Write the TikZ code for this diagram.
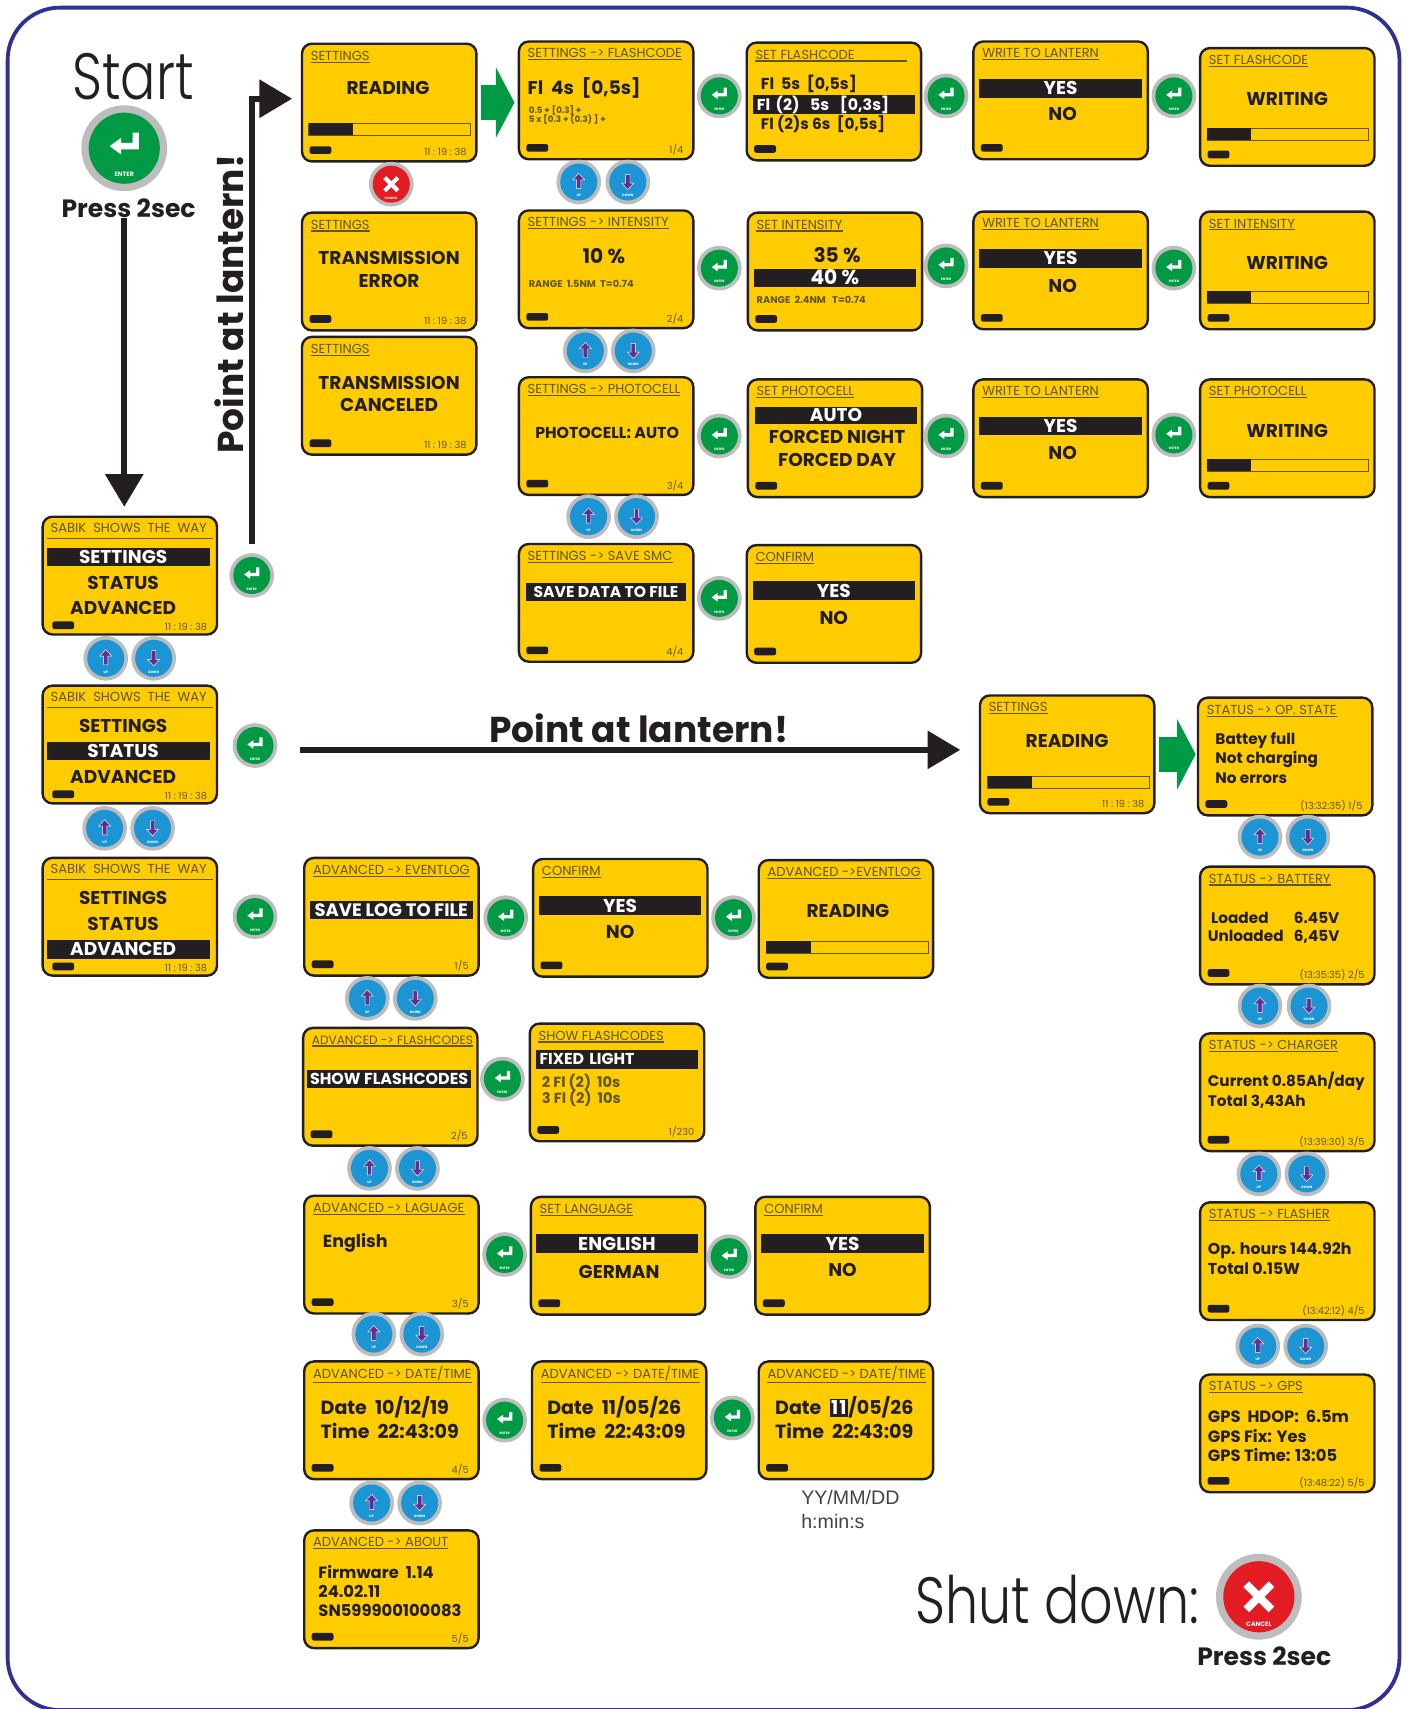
\documentclass[tikz,border=0pt]{standalone}
\usepackage{fontspec}
\setmainfont{Poppins}
\newfontfamily\thinfont[FakeStretch=.8]{Poppins Light}
\newfontfamily\arialfont{Liberation Sans}
\usetikzlibrary{arrows.meta}

\definecolor{scryellow}{HTML}{FFCC00}
\definecolor{scrdark}{HTML}{231F20}
\definecolor{scrdim}{HTML}{5F5620}
\definecolor{keygreen}{HTML}{009A44}
\definecolor{keyblue}{HTML}{1C95D4}
\definecolor{keyred}{HTML}{E31B23}
\definecolor{keyring}{HTML}{BDBDBD}
\definecolor{keypurple}{HTML}{662D91}
\definecolor{framenavy}{HTML}{2E3192}

\tikzset{
    screenbox/.style={draw=scrdark,fill=scryellow,line width=2.2pt,rounded corners=9pt,minimum width=160pt,minimum height=108pt,inner sep=0pt,anchor=north west},
    screentitle/.style={text=scrdim,font=\fontsize{12}{12}\selectfont,inner sep=0pt,inner ysep=1.5pt,anchor=west},
    titlerule/.style={draw=scrdim,line width=1pt},
    battery/.style={fill=scrdark,rounded corners=2pt,minimum width=20pt,minimum height=7pt,inner sep=0pt},
    screenfoot/.style={text=scrdim,font=\fontsize{9}{9}\selectfont,inner sep=0pt,anchor=east},
    scrfs/.style={font=\fontsize{#1}{#1}\selectfont\bfseries,text height=#1*.7pt,text depth=0pt},
    scrleft/.style={anchor=west,scrfs=#1},
    scrtext/.style={text=scrdark,scrfs=17,inner sep=0pt},
    scrsmall/.style={text=scrdim,anchor=west,scrfs=#1},
    scrbar/.style={fill=scrdark,text=white,scrfs=17,inner sep=0pt,minimum width=149pt,minimum height=17pt},
    progressbox/.style={draw=scrdim,line width=1pt,anchor=north west,minimum width=148pt,minimum height=11pt,inner sep=0pt},
    progressdone/.style={fill=scrdark,anchor=north west,minimum width=41pt,minimum height=11pt,inner sep=0pt},
    keyout/.style={circle,fill=keyring,minimum size=41pt,inner sep=0pt,transform shape},
    keyface/.style={circle,minimum size=34pt,inner sep=0pt,transform shape},
    keylabel/.style={text=white,font=\fontsize{3}{3}\selectfont\bfseries,inner sep=0pt,transform shape},
    bigarrow/.style={draw=scrdark,line width=5.5pt,-{Triangle[length=30pt,width=34pt]}},
    greenarrow/.style={draw=keygreen,line width=32pt,-{Triangle[length=17pt,width=64pt]}},
    bigbold/.style={text=scrdark,font=\fontsize{33}{33}\selectfont\bfseries,inner sep=0pt},
    thintext/.style={text=scrdark,inner sep=0pt},
    pressnote/.style={text=scrdark,font=\fontsize{23}{23}\selectfont\bfseries,inner sep=0pt},
    arialnote/.style={text=scrdark!85,font=\fontsize{18}{18}\selectfont\arialfont,inner sep=0pt,anchor=west},
}

% name, x, y, title, footer
\newcommand{\screen}[5]{
    \node[screenbox] (#1) at (#2,#3) {};
    \node[screentitle] (#1-title) at ([shift={(9,12)}]#1.north west) {#4};
    \draw[titlerule] (#1-title.south west) -- (#1-title.south east);
    \node[battery] (#1-batt) at ([shift={(18,-11.5)}]#1.south west) {};
    \node[screenfoot] (#1-foot) at ([shift={(-10,-10)}]#1.south east) {#5};
}
% name, x, y
\newcommand{\menuscreen}[3]{
    \node[screenbox] (#1) at (#2,#3) {};
    \node[screentitle,anchor=center] (#1-title) at ([shift={(-1,11)}]#1.north) {SABIK\ \ SHOWS\ \ THE\ \ WAY};
    \draw[titlerule] ([shift={(5,21)}]#1.north west) -- ([shift={(-5,21)}]#1.north east);
    \node[battery] (#1-batt) at ([shift={(20,-9.5)}]#1.south west) {};
    \node[screenfoot] (#1-foot) at ([shift={(-10,-8)}]#1.south east) {\clocktext};
}
\newcommand{\clocktext}{11\ :\ 19\ :\ 38}
\newcommand{\scrline}[5][]{\node[scrtext,#1] (#2) at (#3,#4) {#5};}
\newcommand{\scrsel}[5][]{\node[scrbar,#1] (#2) at (#3,#4) {#5};}
% name, x, y: box with its filled part
\newcommand{\progress}[3]{
    \node[progressbox] (#1) at (#2,#3) {};
    \node[progressdone] (#1-done) at (#2,#3) {};
}
\newcommand{\enterkey}[4]{
    \begin{scope}[shift={(#2,#3)},scale=#4]
        \node[keyout] (#1) at (0,0) {};
        \node[keyface,fill=keygreen] (#1-face) at (0,0) {};
        \fill[white] (-7,-1) -- (-1.5,-5) -- (-1.5,-2.5) -- (4,-2.5) -- (4,-7.5) -- (7,-7.5) -- (7,.5) -- (-1.5,.5) -- (-1.5,3) -- cycle;
        \node[keylabel] (#1-text) at (0,12.5) {ENTER};
    \end{scope}
}
\newcommand{\cancelkey}[4]{
    \begin{scope}[shift={(#2,#3)},scale=#4]
        \node[keyout] (#1) at (0,0) {};
        \node[keyface,fill=keyred] (#1-face) at (0,0) {};
        \fill[white,rotate=45] (-8.5,-1.9) rectangle (8.5,1.9);
        \fill[white,rotate=-45] (-8.5,-1.9) rectangle (8.5,1.9);
        \node[keylabel] (#1-text) at (0,13) {CANCEL};
    \end{scope}
}
% name, x of the up key, x of the down key, y
\newcommand{\updown}[4]{
    \begin{scope}[shift={(#2,#4)}]
        \node[keyout] (#1-up) at (0,0) {};
        \node[keyface,fill=keyblue] (#1-upface) at (0,0) {};
        \filldraw[fill=keypurple,draw=white,line width=.4pt] (0,-8) -- (5.5,-2) -- (2,-2) -- (2,6) -- (-2,6) -- (-2,-2) -- (-5.5,-2) -- cycle;
        \node[keylabel] (#1-uptext) at (0,12.5) {UP};
    \end{scope}
    \begin{scope}[shift={(#3,#4)}]
        \node[keyout] (#1-down) at (0,0) {};
        \node[keyface,fill=keyblue] (#1-downface) at (0,0) {};
        \filldraw[fill=keypurple,draw=white,line width=.4pt] (0,7) -- (5.5,1) -- (2,1) -- (2,-7) -- (-2,-7) -- (-2,1) -- (-5.5,1) -- cycle;
        \node[keylabel] (#1-downtext) at (0,12.5) {DOWN};
    \end{scope}
}

\begin{document}
\begin{tikzpicture}[x=1pt,y=-1pt]
    \useasboundingbox (0,0) rectangle (1291,1568);
    \draw[framenavy,line width=3.5pt,rounded corners=48pt] (7,7) rectangle (1284,1569);

    %Start and shut down
    \node[thintext,font=\fontsize{60}{60}\selectfont\thinfont] (start) at (122,70) {Start};
    \enterkey{startkey}{114}{136}{1.92}
    \node[pressnote] (press) at (118,191) {Press 2sec};
    \node[thintext,font=\fontsize{60}{60}\selectfont\thinfont] (shut) at (970,1468) {Shut down:};
    \cancelkey{stopkey}{1155}{1465}{1.92}
    \node[pressnote] (pressstop) at (1160,1520) {Press 2sec};

    %Main menu
    \menuscreen{menuset}{38}{473}
    \scrsel{menuset-a}{118}{511}{SETTINGS\kern10pt}
    \scrline{menuset-b}{113}{535}{STATUS}
    \scrline{menuset-c}{113}{558}{ADVANCED}
    \menuscreen{menustat}{38}{628}
    \scrline{menustat-a}{113}{666}{SETTINGS}
    \scrsel{menustat-b}{118}{689}{STATUS\kern10pt}
    \scrline{menustat-c}{113}{713}{ADVANCED}
    \menuscreen{menuadv}{38}{786}
    \scrline{menuadv-a}{113}{824}{SETTINGS}
    \scrline{menuadv-b}{113}{848}{STATUS}
    \scrsel{menuadv-c}{118}{871}{ADVANCED\kern10pt}
    \updown{menukeya}{97}{141}{604}
    \updown{menukeyb}{96}{140}{760}
    \enterkey{menuenta}{231}{528}{1}
    \enterkey{menuentb}{234}{684}{1}
    \enterkey{menuentc}{234}{841}{1}

    %Settings, first column
    \screen{rd}{276}{39}{SETTINGS}{\clocktext}
    \scrline{rd-a}{356}{81}{READING}
    \progress{rd-bar}{283}{113}
    \cancelkey{rdcancel}{359}{169}{1}
    \screen{err}{276}{194}{SETTINGS}{\clocktext}
    \scrline{err-a}{357}{237}{TRANSMISSION}
    \scrline{err-b}{357}{258}{ERROR}
    \screen{can}{276}{308}{SETTINGS}{\clocktext}
    \scrline{can-a}{357}{351}{TRANSMISSION}
    \scrline{can-b}{357}{372}{CANCELED}

    %Settings, flashcode row
    \screen{fc}{475}{37}{SETTINGS -> FLASHCODE}{1/4}
    \scrline[anchor=west]{fc-a}{484}{81}{Fl\ \ 4s\ \ [0,5s]}
    \scrline[scrsmall=8]{fc-b}{485}{101}{0.5 + [0.3] +}
    \scrline[scrsmall=8]{fc-c}{485}{110}{5 x [0.3 + (0.3) ] +}
    \enterkey{fcent}{660}{88}{1}
    \screen{sf}{684}{38}{SET FLASHCODE}{}
    \draw[titlerule] (sf-title.south east) -- +(48,0);
    \scrline[scrleft=14.5]{sf-a}{698}{77}{Fl\ \ 5s\ \ [0,5s]}
    \scrsel[scrfs=14.5,text width=141pt,align=left]{sf-b}{765}{96}{Fl (2)\ \ 5s\ \ [0,3s]}
    \scrline[scrleft=14]{sf-c}{698}{114}{Fl (2)s 6s\ \ [0,5s]}
    \enterkey{sfent}{868}{88}{1}
    \screen{wa}{892}{37}{WRITE TO LANTERN}{}
    \scrsel{wa-a}{973}{81}{YES}
    \scrline{wa-b}{975}{105}{NO}
    \enterkey{waent}{1077}{88}{1}
    \screen{wra}{1100}{43}{SET FLASHCODE}{}
    \scrline{wra-a}{1181}{91}{WRITING}
    \progress{wra-bar}{1107}{117}

    %Settings, intensity row
    \updown{fckey}{531}{576}{167}
    \screen{in}{475}{192}{SETTINGS -> INTENSITY}{2/4}
    \scrline[scrfs=18.5]{in-a}{554}{235}{10 \%}
    \scrline[scrsmall=9]{in-b}{485}{261}{RANGE\ \ 1.5NM\ \ T=0.74}
    \enterkey{inent}{660}{246}{1}
    \screen{si}{685}{194}{SET INTENSITY}{}
    \scrline[scrfs=18.5]{si-a}{768}{234}{35 \%}
    \scrsel[scrfs=18.5]{si-b}{766}{255}{40 \%}
    \scrline[scrsmall=9]{si-c}{694}{275}{RANGE\ \ 2.4NM\ \ \ T=0.74}
    \enterkey{sient}{868}{244}{1}
    \screen{wb}{892}{193}{WRITE TO LANTERN}{}
    \scrsel{wb-a}{973}{237}{YES}
    \scrline{wb-b}{975}{262}{NO}
    \enterkey{wbent}{1077}{246}{1}
    \screen{wrb}{1100}{193}{SET INTENSITY}{}
    \scrline{wrb-a}{1181}{241}{WRITING}
    \progress{wrb-bar}{1107}{267}

    %Settings, photocell row
    \updown{inkey}{537}{581}{322}
    \screen{ph}{475}{345}{SETTINGS -> PHOTOCELL}{3/4}
    \scrline[scrfs=14.5]{ph-a}{557}{397}{PHOTOCELL: AUTO}
    \enterkey{phent}{660}{400}{1}
    \screen{sp}{685}{347}{SET PHOTOCELL}{}
    \scrsel[minimum height=16pt]{sp-a}{767}{381}{AUTO}
    \scrline{sp-b}{768}{401}{FORCED NIGHT}
    \scrline{sp-c}{768}{422}{FORCED DAY}
    \enterkey{spent}{868}{400}{1}
    \screen{wc}{892}{347}{WRITE TO LANTERN}{}
    \scrsel{wc-a}{973}{391}{YES}
    \scrline{wc-b}{975}{416}{NO}
    \enterkey{wcent}{1077}{399}{1}
    \screen{wrc}{1100}{347}{SET PHOTOCELL}{}
    \scrline{wrc-a}{1181}{395}{WRITING}
    \progress{wrc-bar}{1107}{421}

    %Settings, save row
    \updown{phkey}{540}{584}{474}
    \screen{smc}{475}{498}{SETTINGS -> SAVE SMC}{4/4}
    \scrsel[minimum width=146pt,scrfs=14.3]{smc-a}{556}{543}{SAVE DATA TO FILE}
    \enterkey{smcent}{660}{549}{1}
    \screen{cfa}{684}{499}{CONFIRM}{}
    \scrsel{cfa-a}{765}{542}{YES}
    \scrline{cfa-b}{765}{567}{NO}

    %Status column
    \screen{rds}{898}{637}{SETTINGS}{\clocktext}
    \scrline{rds-a}{979}{680}{READING}
    \progress{rds-bar}{906}{712}
    \screen{sta}{1098}{639}{STATUS -> OP. STATE}{(13:32:35) 1/5}
    \scrline[scrleft=14]{sta-a}{1115}{678}{Battey full}
    \scrline[scrleft=14]{sta-b}{1115}{696}{Not charging}
    \scrline[scrleft=14]{sta-c}{1115}{714}{No errors}
    \updown{stakey}{1156}{1200}{768}
    \screen{stb}{1100}{794}{STATUS -> BATTERY}{(13:35:35) 2/5}
    \scrline[scrleft=14]{stb-a}{1111}{842}{Loaded}
    \scrline[scrleft=14]{stb-b}{1187}{842}{6.45V}
    \scrline[scrleft=14]{stb-c}{1108}{859}{Unloaded}
    \scrline[scrleft=14]{stb-d}{1187}{859}{6,45V}
    \updown{stbkey}{1156}{1201}{923}
    \screen{stc}{1100}{947}{STATUS -> CHARGER}{(13:39:30) 3/5}
    \scrline[scrleft=14]{stc-a}{1108}{992}{Current 0.85Ah/day}
    \scrline[scrleft=14]{stc-b}{1108}{1010}{Total 3,43Ah}
    \updown{stckey}{1155}{1199}{1077}
    \screen{std}{1100}{1102}{STATUS -> FLASHER}{(13:42:12) 4/5}
    \scrline[scrleft=14.5]{std-a}{1108}{1146}{Op. hours 144.92h}
    \scrline[scrleft=14.5]{std-b}{1108}{1164}{Total 0.15W}
    \updown{stdkey}{1154}{1198}{1235}
    \screen{ste}{1100}{1260}{STATUS -> GPS}{(13:48:22) 5/5}
    \scrline[scrleft=15]{ste-a}{1108}{1300}{GPS\ \ HDOP:\ \ 6.5m}
    \scrline[scrleft=15]{ste-b}{1108}{1318}{GPS Fix: Yes}
    \scrline[scrleft=15]{ste-c}{1108}{1336}{GPS Time: 13:05}

    %Advanced, first row
    \screen{ada}{278}{786}{ADVANCED -> EVENTLOG}{1/5}
    \scrsel[scrfs=16.5,minimum width=150pt]{ada-a}{359}{835}{SAVE LOG TO FILE}
    \enterkey{adaent}{464}{842}{1}
    \screen{cfb}{488}{787}{CONFIRM}{}
    \scrsel{cfb-a}{569}{831}{YES}
    \scrline{cfb-b}{569}{855}{NO}
    \enterkey{cfbent}{673}{842}{1}
    \screen{log}{695}{788}{ADVANCED ->EVENTLOG}{}
    \scrline{log-a}{778}{836}{READING}
    \progress{log-bar}{703}{863}

    %Advanced, flashcodes row
    \updown{adakey}{337}{381}{916}
    \screen{adb}{277}{942}{\fontsize{11.1}{11.1}\selectfont ADVANCED -> FLASHCODES}{2/5}
    \scrsel[scrfs=14.6,minimum width=151pt]{adb-a}{357}{990}{SHOW FLASHCODES}
    \enterkey{adbent}{461}{990}{1}
    \screen{sh}{485}{938}{SHOW FLASHCODES}{1/230}
    \scrsel[scrfs=14.5,text width=142pt,align=left,minimum width=148pt]{sh-a}{566}{972}{FIXED LIGHT}
    \scrline[scrleft=13.4,text=scrdim]{sh-b}{497}{993}{2 Fl (2)\ \ 10s}
    \scrline[scrleft=13.4,text=scrdim]{sh-c}{497}{1008}{3 Fl (2)\ \ 10s}

    %Advanced, language row
    \updown{adbkey}{339}{383}{1072}
    \screen{adc}{278}{1096}{ADVANCED -> LAGUAGE}{3/5}
    \scrline[scrleft=16]{adc-a}{296}{1139}{English}
    \enterkey{adcent}{463}{1151}{1}
    \screen{sl}{486}{1097}{SET LANGUAGE}{}
    \scrsel{sl-a}{566}{1141}{ENGLISH}
    \scrline{sl-b}{568}{1167}{GERMAN}
    \enterkey{slent}{669}{1153}{1}
    \screen{cfc}{692}{1097}{CONFIRM}{}
    \scrsel{cfc-a}{773}{1141}{YES}
    \scrline{cfc-b}{773}{1165}{NO}

    %Advanced, date row
    \updown{adckey}{343}{387}{1224}
    \screen{add}{278}{1248}{ADVANCED -> DATE/TIME}{4/5}
    \scrline[scrleft=17.5]{add-a}{294}{1292}{Date\ \ 10/12/19}
    \scrline[scrleft=17.5]{add-b}{294}{1314}{Time\ \ 22:43:09}
    \enterkey{addent}{463}{1303}{1}
    \screen{dtb}{487}{1248}{ADVANCED -> DATE/TIME}{}
    \scrline[scrleft=17.5]{dtb-a}{502}{1292}{Date\ \ 11/05/26}
    \scrline[scrleft=17.5]{dtb-b}{502}{1314}{Time\ \ 22:43:09}
    \enterkey{dtbent}{672}{1301}{1}
    \screen{dtc}{695}{1248}{ADVANCED -> DATE/TIME}{}
    \scrline[scrleft=17.5]{dtc-a}{711}{1292}{Date\ \ {\fboxsep=1.5pt\colorbox{scrdark}{\textcolor{white}{1\kern1pt 1}}}/05/26}
    \scrline[scrleft=17.5]{dtc-b}{711}{1314}{Time\ \ 22:43:09}
    \node[arialnote] (notea) at (735,1374) {YY/MM/DD};
    \node[arialnote] (noteb) at (735,1396) {h:min:s};

    %Advanced, about row
    \updown{addkey}{341}{385}{1379}
    \screen{ade}{278}{1403}{ADVANCED -> ABOUT}{5/5}
    \scrline[scrleft=15]{ade-a}{292}{1443}{Firmware\ \ 1.14}
    \scrline[scrleft=15]{ade-b}{292}{1460}{24.02.11}
    \scrline[scrleft=15]{ade-c}{292}{1478}{SN599900100083}

    %Arrows between the screens
    \coordinate (lanternfrom) at (275,688);
    \draw[bigarrow,shorten >=8pt] (startkey |- press.south) -- (startkey |- menuset.north);
    \draw[bigarrow,shorten <=8pt,shorten >=8pt] (menuenta.north) |- ([yshift=3.5pt]rd.west);
    \draw[bigarrow,shorten >=17pt] (lanternfrom) -- (lanternfrom -| rds.west);
    \draw[greenarrow,shorten <=3pt,shorten >=3pt] (rd.east) -- (rd.east -| fc.west);
    \draw[greenarrow,shorten <=3pt,shorten >=1pt] (rds.east) -- (rds.east -| sta.west);
    \node[bigbold,rotate=90] (lanternup) at (210,279) {Point at lantern!};
    \node[bigbold] (lanternright) at (586,668) {Point at lantern!};
\end{tikzpicture}
\end{document}
